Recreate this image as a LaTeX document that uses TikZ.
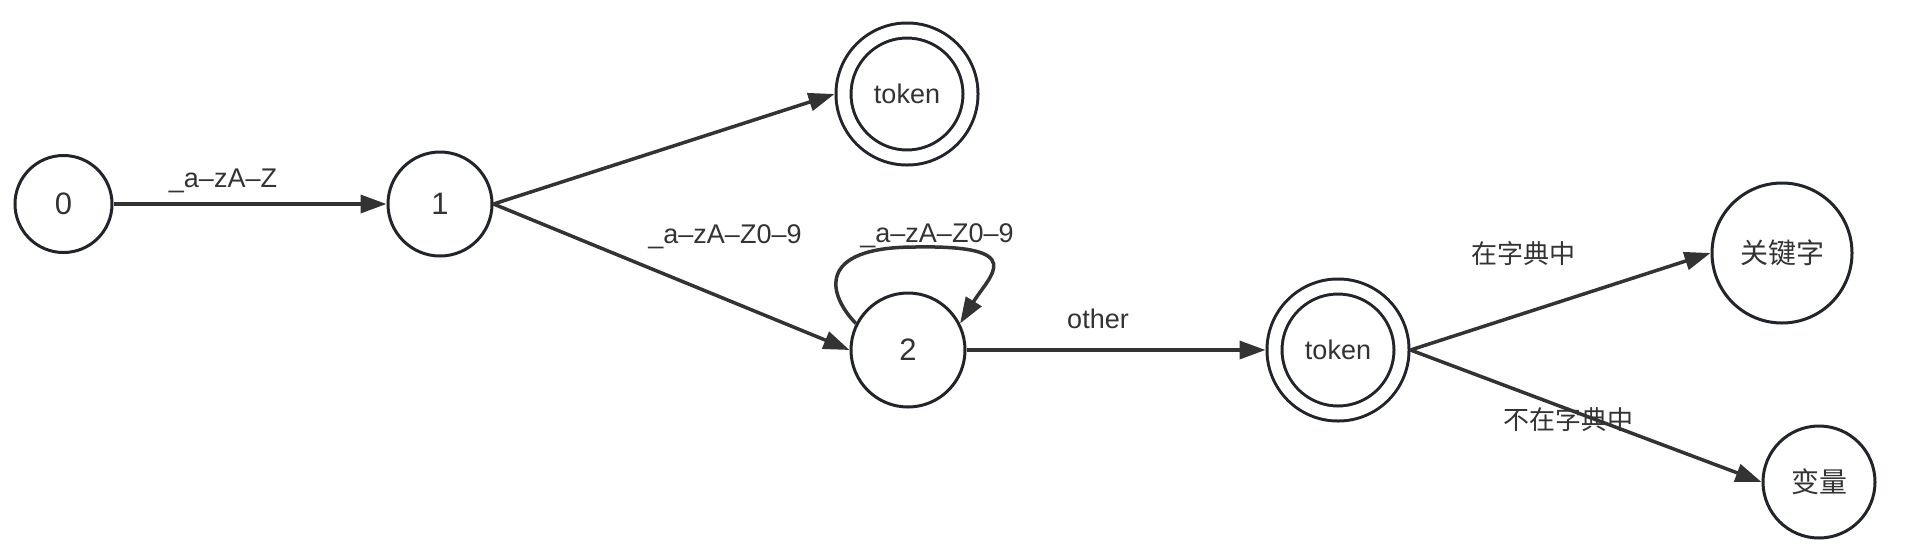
\documentclass[tikz,border=0pt]{standalone}
\usepackage{fontspec}
\setmainfont{Liberation Sans}
\newfontfamily\cjk{Noto Sans CJK SC}
\usetikzlibrary{arrows.meta}
\definecolor{strokec}{HTML}{21252B}
\definecolor{arrowc}{HTML}{333333}
\definecolor{textc}{HTML}{333333}
\tikzset{
  stnode/.style={circle, draw=strokec, line width=3pt, inner sep=0pt, text=textc},
  digit/.style={font=\fontsize{31}{34}\selectfont},
  cjknode/.style={font=\cjk\fontsize{28}{32}\selectfont},
  acc/.style={circle, draw=strokec, double=white, double distance=12pt, line width=3pt,
    inner sep=0pt, outer sep=9pt, minimum size=127pt, text=textc, font=\fontsize{27}{30}\selectfont},
  arr/.style={draw=arrowc, line width=3.5pt, -{Triangle[length=26pt,width=18pt]}},
  lbl/.style={text=textc, inner sep=0pt, font=\fontsize{27}{30}\selectfont},
  cjklbl/.style={text=textc, inner sep=0pt, font=\cjk\fontsize{26}{30}\selectfont},
}
\begin{document}
\begin{tikzpicture}[x=1pt, y=-1pt]
\useasboundingbox[fill=white] (0,0) rectangle (1914,558);
% nodes
\node[stnode, digit, minimum size=97pt] (n0) at (63.5,204) {0};
\node[stnode, digit, minimum size=104pt] (n1) at (440,204) {1};
\node[acc] (tok1) at (907,94) {token};
\node[stnode, digit, minimum size=114pt] (n2) at (908,350) {2};
\node[acc] (tok2) at (1338,350) {token};
\node[stnode, cjknode, minimum size=140pt] (kw) at (1782,253) {关键字};
\node[stnode, cjknode, minimum size=112pt] (var) at (1819,482) {变量};
% edges
\draw[arr] (n0) -- (n1);
\draw[arr] (n1.east) -- (tok1.west);
\draw[arr] (n1.east) -- (n2.west);
\draw[arr] (n2.153) .. controls (828,295) and (815,247) .. (915,247)
  .. controls (1030,245) and (990,275) .. (n2.27);
\draw[arr] (n2) -- (tok2);
\draw[arr] (tok2.east) -- (kw.west);
\draw[arr] (tok2.east) -- (var.west);
% labels
\node[lbl, anchor=base] (l01) at (223,187) {\_a–zA–Z};
\node[lbl, anchor=base] (l12) at (725,243) {\_a–zA–Z0–9};
\node[lbl, anchor=base] (l22) at (937,242) {\_a–zA–Z0–9};
\node[lbl, anchor=base] (lo) at (1098,328) {other};
\node[cjklbl] (lin) at (1523,254) {在字典中};
\node[cjklbl] (lnot) at (1568,420) {不在字典中};
\end{tikzpicture}
\end{document}
